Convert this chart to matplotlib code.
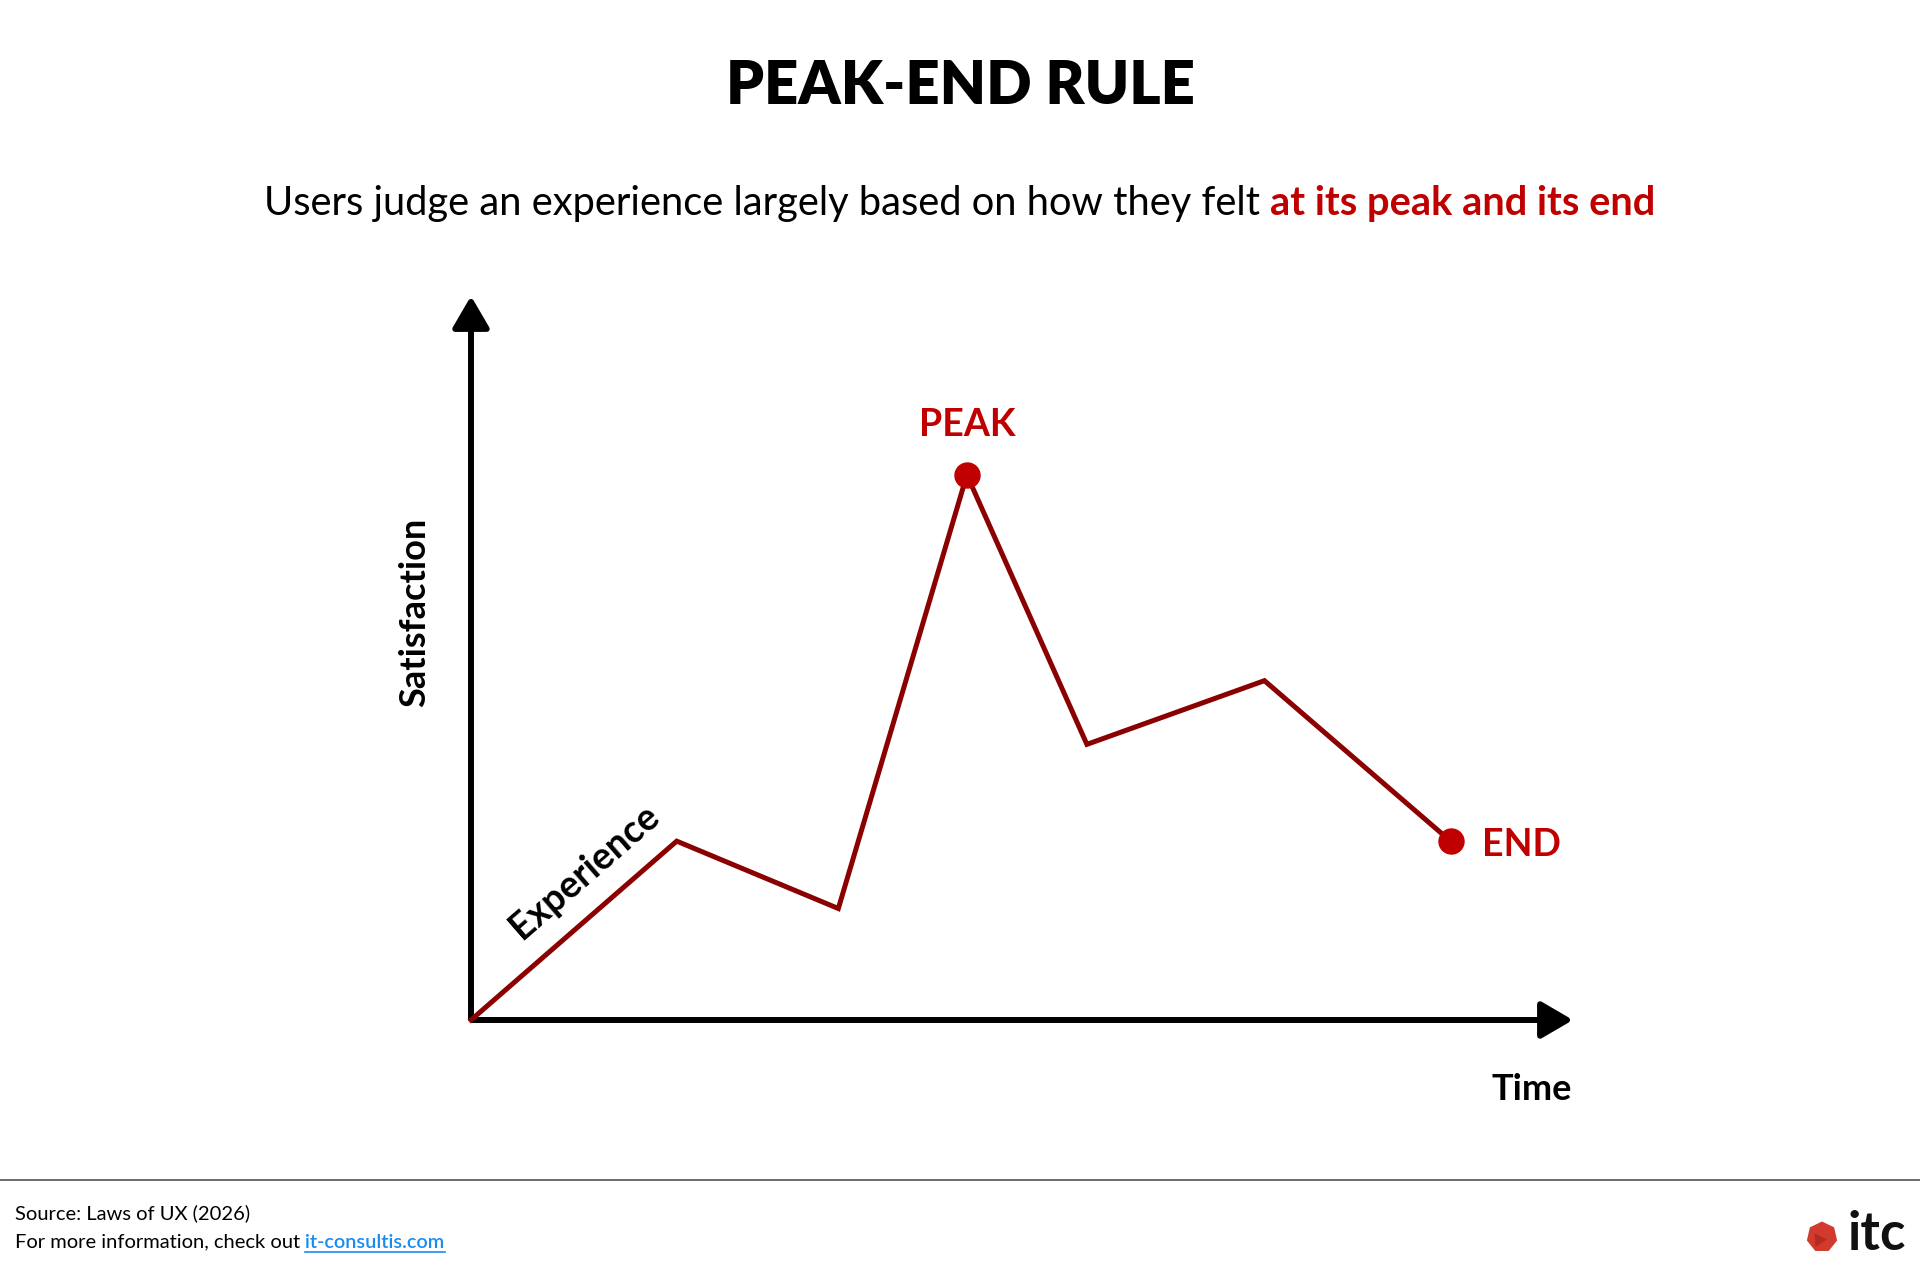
import matplotlib
matplotlib.use("Agg")
import matplotlib.pyplot as plt
from matplotlib.patches import RegularPolygon
from matplotlib.transforms import IdentityTransform

plt.rcParams['font.family'] = ['Lato', 'DejaVu Sans']

# data (arbitrary units)
time = [0, 1.68, 3.00, 4.05, 5.03, 6.48, 8.00]
satisfaction = [0, 1.46, 0.91, 4.45, 2.25, 2.77, 1.46]
peak_idx = 3
end_idx = 6

DARK_RED = '#8b0000'
RED = '#c00000'

fig = plt.figure(figsize=(19.2, 12.74), dpi=100)
W, H = 1920, 1274

# axes placed so that origin / arrow ends land as in the reference
ax = fig.add_axes([471 / W, 1 - 1020 / H, 1102 / W, 724 / H])
x_end, y_end = 9.0, 5.91
ax.set_xlim(0, x_end)
ax.set_ylim(0, y_end)
ax.axis('off')

# axis arrows
arrow_kw = dict(arrowstyle='-|>,head_length=0.36,head_width=0.21', lw=4.3,
                color='black', shrinkA=0, shrinkB=0, mutation_scale=54,
                capstyle='butt')
ax.annotate('', xy=(x_end, 0), xytext=(0, 0), arrowprops=arrow_kw,
            annotation_clip=False)
ax.annotate('', xy=(0, y_end), xytext=(0, 0), arrowprops=arrow_kw,
            annotation_clip=False)

# experience curve
ax.plot(time, satisfaction, color=DARK_RED, lw=3.6, solid_joinstyle='miter',
        clip_on=False, zorder=3)
ax.plot([time[peak_idx], time[end_idx]], [satisfaction[peak_idx], satisfaction[end_idx]],
        'o', color=RED, ms=18, clip_on=False, zorder=4)

ax.text(time[peak_idx], satisfaction[peak_idx] + 0.41, 'PEAK', color=RED,
        fontsize=27, fontweight='bold', ha='center', va='center')
ax.text(time[end_idx] + 0.26, satisfaction[end_idx] - 0.03, 'END', color=RED,
        fontsize=27, fontweight='bold', ha='left', va='center')
ax.text(8.66, -0.57, 'Time', fontsize=26, fontweight='bold', ha='center', va='center')
ax.text(-0.46, 3.33, 'Satisfaction', fontsize=26, fontweight='bold',
        rotation=90, ha='center', va='center')
ax.text(0.93, 1.21, 'Experience', fontsize=27, fontweight='bold',
        rotation=41, ha='center', va='center', rotation_mode='anchor')

# title
fig.text(0.5, 1 - 86 / H, 'PEAK-END RULE', fontsize=43, fontweight='heavy',
         ha='center', va='center')

# subtitle: two parts, centred together
renderer = fig.canvas.get_renderer()
sub_y = 1 - 203 / H
t1 = fig.text(0, sub_y, 'Users judge an experience largely based on how they felt ',
              fontsize=28.7, ha='left', va='center')
t2 = fig.text(0, sub_y, 'at its peak and its end', fontsize=28.7, fontweight='bold',
              color=RED, ha='left', va='center')
w1 = t1.get_window_extent(renderer).width
w2 = t2.get_window_extent(renderer).width
x0 = (W - w1 - w2) / 2
t1.set_x(x0 / W)
t2.set_x((x0 + w1) / W)

# footer
fig.add_artist(plt.Line2D([0, 1], [1 - 1180 / H, 1 - 1180 / H], color='#444444', lw=1.1))
fig.text(15 / W, 1 - 1213 / H, 'Source: Laws of UX (2026)', fontsize=14.5,
         ha='left', va='center')
f1 = fig.text(15 / W, 1 - 1242 / H, 'For more information, check out ', fontsize=14.5,
              ha='left', va='center')
fw = f1.get_window_extent(renderer).width
link = fig.text((15 + fw) / W, 1 - 1242 / H, 'it-consultis.com', fontsize=14.3,
                color='#1a8cf0', fontweight='semibold', ha='left', va='center')
lb = link.get_window_extent(renderer)
fig.add_artist(plt.Line2D([lb.x0 / W, lb.x1 / W], [(lb.y0 - 1) / H, (lb.y0 - 1) / H],
                          color='#1a8cf0', lw=1.2))

# logo
fig.add_artist(RegularPolygon((1822, H - 1237), numVertices=7, radius=15.5,
                              transform=IdentityTransform(),
                              facecolor='#d23a2e', edgecolor='none'))
fig.add_artist(RegularPolygon((1819, H - 1240), numVertices=3, radius=8,
                              orientation=0.6, transform=IdentityTransform(),
                              facecolor='#b32a22', edgecolor='none'))
fig.text(1847 / W, 1 - 1250 / H, 'itc', fontsize=38, fontweight='bold',
         color='#111111', ha='left', va='baseline')

fig.savefig('out.png', dpi=100, facecolor='white')
